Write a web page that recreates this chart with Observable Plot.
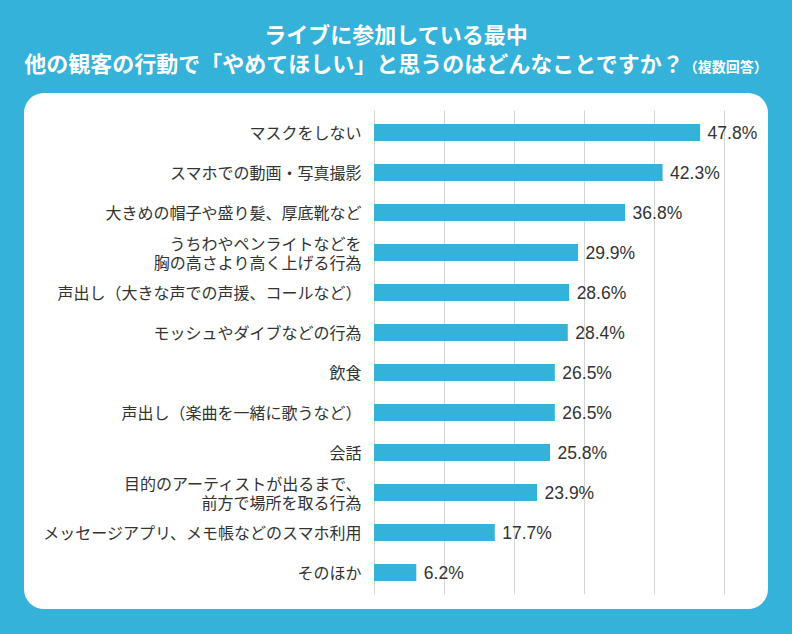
<!DOCTYPE html>
<html><head><meta charset="utf-8">
<script src="https://cdn.jsdelivr.net/npm/d3@7"></script>
<script src="https://cdn.jsdelivr.net/npm/@observablehq/plot@0.6"></script>
<style>
html,body{margin:0;padding:0;}
#wrap{position:relative;width:792px;height:634px;background:#34b2da;overflow:hidden;font-family:"Noto Sans CJK JP","Noto Sans",sans-serif;}
.t{position:absolute;left:0;width:792px;text-align:center;color:#fff;font-weight:700;font-size:22px;line-height:30px;white-space:nowrap;}
.t small{font-size:14px;font-weight:700;}
#panel{position:absolute;left:24px;top:93px;width:744px;height:516px;background:#fff;border-radius:20px;}
#panel svg{display:block;}
</style></head>
<body><div id="wrap">
<div class="t" style="top:18px">ライブに参加している最中</div>
<div class="t" style="top:47px">他の観客の行動で「やめてほしい」と思うのはどんなことですか？<small>（複数回答）</small></div>
<div id="panel"></div>
</div>
<script>
const categories = [
  "マスクをしない",
  "スマホでの動画・写真撮影",
  "大きめの帽子や盛り髪、厚底靴など",
  "うちわやペンライトなどを\n胸の高さより高く上げる行為",
  "声出し（大きな声での声援、コールなど）",
  "モッシュやダイブなどの行為",
  "飲食",
  "声出し（楽曲を一緒に歌うなど）",
  "会話",
  "目的のアーティストが出るまで、\n前方で場所を取る行為",
  "メッセージアプリ、メモ帳などのスマホ利用",
  "そのほか"
];
const values = [47.8, 42.3, 36.8, 29.9, 28.6, 28.4, 26.5, 26.5, 25.8, 23.9, 17.7, 6.2];
const gridStep = 10.26;
const gridTicks = [0, 1, 2, 3, 4, 5].map(i => i * gridStep);

const data = categories.map((c, i) => ({category: c, value: values[i]}));

const chart = Plot.plot({
  width: 744,
  height: 516,
  marginLeft: 350,
  marginRight: 44,
  marginTop: 17.5,
  marginBottom: 14.9,
  style: {background: "transparent"},
  x: {domain: [0, 5 * gridStep], axis: null},
  y: {domain: categories, paddingInner: 0.586, paddingOuter: 0.293, axis: null},
  marks: [
    Plot.gridX(gridTicks, {stroke: "#d4d4d4", strokeOpacity: 1, strokeWidth: 1}),
    Plot.barX(data, {x: "value", y: "category", fill: "#34b2da"}),
    Plot.axisY({tickSize: 0, tickPadding: 13, fontSize: 16, lineHeight: 1.22, fill: "#333", fontFamily: "Noto Sans CJK JP", label: null}),
    Plot.text(data, {x: "value", y: "category", text: d => d.value.toFixed(1) + "%", textAnchor: "start", dx: 7, fontSize: 17.5, fill: "#333", fontFamily: "Liberation Sans, Arial, sans-serif"})
  ]
});
document.getElementById("panel").appendChild(chart);
</script>
</body></html>
